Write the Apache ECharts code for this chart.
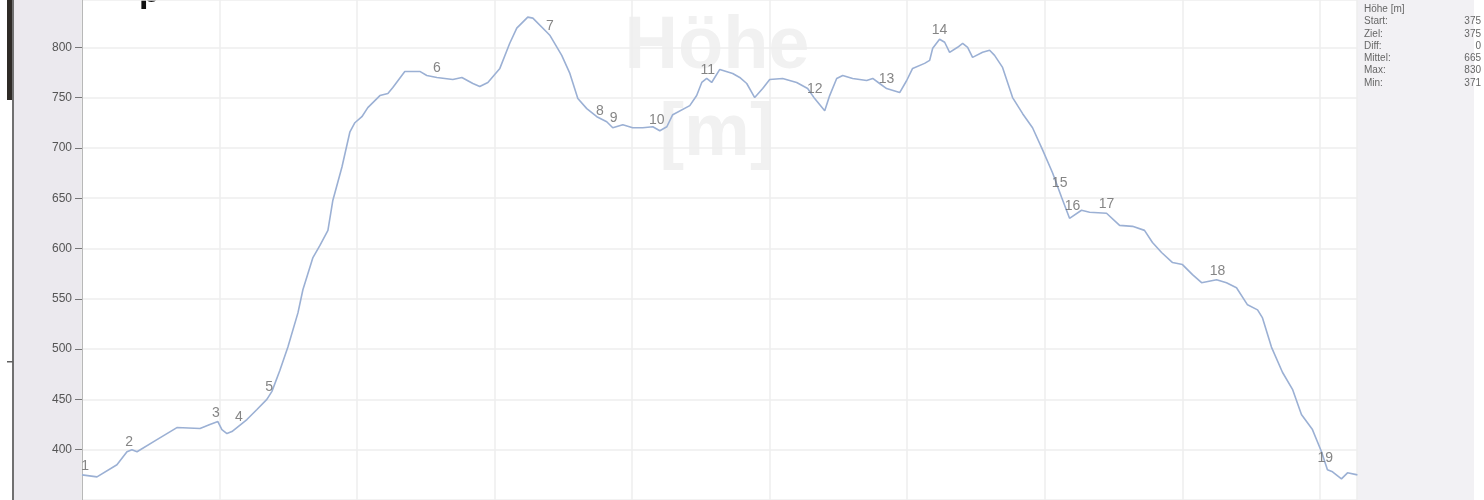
<!DOCTYPE html>
<html><head><meta charset="utf-8">
<script src="https://cdn.jsdelivr.net/npm/echarts@6/dist/echarts.min.js"></script>
<style>html,body{margin:0;padding:0;background:#fff}#c{width:1484px;height:500px}</style>
</head><body><div id="c"></div>
<script>
// distance along the route (grid units) and elevation (m)
const distKm = [0,0.109,0.254,0.327,0.363,0.400,0.545,0.690,0.858,0.930,0.988,1.017,1.054,1.090,1.199,1.272,1.344,1.381,1.439,1.497,1.570,1.606,1.679,1.730,1.788,1.824,1.890,1.948,1.984,2.035,2.078,2.166,2.224,2.260,2.347,2.456,2.507,2.580,2.696,2.762,2.842,2.892,2.951,3.038,3.110,3.161,3.241,3.278,3.380,3.401,3.488,3.547,3.605,3.670,3.743,3.815,3.859,3.932,4.004,4.077,4.150,4.201,4.252,4.295,4.419,4.469,4.506,4.542,4.578,4.637,4.731,4.782,4.833,4.891,4.949,5.000,5.094,5.196,5.276,5.327,5.400,5.436,5.487,5.531,5.603,5.705,5.749,5.799,5.850,5.945,5.996,6.039,6.126,6.163,6.185,6.235,6.272,6.308,6.366,6.403,6.439,6.475,6.548,6.599,6.635,6.693,6.766,6.839,6.911,6.984,7.057,7.122,7.180,7.267,7.326,7.449,7.544,7.638,7.725,7.783,7.849,7.929,8.001,8.074,8.140,8.249,8.321,8.394,8.474,8.547,8.583,8.648,8.728,8.801,8.866,8.946,9.012,9.055,9.092,9.157,9.201,9.273];
const elevM = [375,373,385,398,400,398,410,422,421,425,428,420,416,418,430,440,450,458,479,502,536,559,591,603,618,648,681,716,725,731,740,752,754,760,776,776,772,770,768,770,764,761,765,779,804,819,830,829,815,812,792,774,749,739,731,726,720,723,720,720,721,717,721,733,742,752,765,769,765,778,774,770,764,750,759,768,769,765,759,749,737,752,769,772,769,767,769,764,759,755,767,779,784,787,799,808,805,795,800,804,800,790,795,797,792,780,750,734,720,698,675,651,630,638,636,635,623,622,618,606,596,586,584,574,566,569,566,561,544,539,531,502,477,460,435,420,398,380,378,371,377,375];

// waypoints
const wpNames = ['1','2','3','4','5','6','7','8','9','10','11','12','13','14','15','16','17','18','19'];
const wpDist = [0.022,0.342,0.974,1.141,1.360,2.580,3.401,3.765,3.866,4.179,4.549,5.327,5.850,6.235,7.108,7.202,7.449,8.256,9.040];
const wpElev = [375,399,427,423,453,770,812,728,721,719,768,749,759,808,656,633,635,569,383];

// summary panel
const statTitle = 'Höhe [m]';
const statLabels = ['Start:','Ziel:','Diff:','Mittel:','Max:','Min:'];
const statValues = ['375','375','0','665','830','371'];

const chart = echarts.init(document.getElementById('c'));
const F = '"Liberation Sans", Arial, sans-serif';

const graphics = [
  {type:'rect', z:-10, shape:{x:14,y:0,width:68,height:500}, style:{fill:'#ebe9ee'}},
  {type:'rect', z:-10, shape:{x:1357,y:0,width:117,height:500}, style:{fill:'#f2f1f4'}},
  {type:'rect', z:-9, shape:{x:7,y:0,width:6,height:100}, style:{fill:'#2e2a26'}},
  {type:'rect', z:-9, shape:{x:12,y:0,width:2,height:500}, style:{fill:'#707070'}},
  {type:'rect', z:-9, shape:{x:7,y:361,width:6,height:1.5}, style:{fill:'#606060'}},
  {type:'text', z:-9, style:{x:139, y:10, text:'p', textVerticalAlign:'bottom', font:'bold 34px ' + F, fill:'#111'}},
  {type:'text', z:-5, style:{x:717, y:48, text:'Höhe', textAlign:'center', textVerticalAlign:'middle', font:'bold 74px ' + F, fill:'#f1f1f1'}},
  {type:'text', z:-5, style:{x:717, y:135, text:'[m]', textAlign:'center', textVerticalAlign:'middle', font:'bold 74px ' + F, fill:'#f1f1f1'}},
  {type:'text', z:5, style:{x:1364, y:9, text:statTitle, textVerticalAlign:'middle', font:'10px ' + F, fill:'#666'}}
];
statLabels.forEach((s,i)=>{
  graphics.push({type:'text', z:5, style:{x:1364, y:21.5+i*12.3, text:s, textVerticalAlign:'middle', font:'10px ' + F, fill:'#666'}});
  graphics.push({type:'text', z:5, style:{x:1481, y:21.5+i*12.3, text:statValues[i], textAlign:'right', textVerticalAlign:'middle', font:'10px ' + F, fill:'#666'}});
});

chart.setOption({
  animation:false,
  backgroundColor:'#ffffff',
  graphic: graphics,
  grid:{left:82, right:127, top:0, bottom:0, containLabel:false},
  xAxis:{type:'value', min:0, max:9.27, interval:1,
    axisLabel:{show:false}, axisTick:{show:false},
    axisLine:{show:true, lineStyle:{color:'#d8d8d8', type:'dashed', width:1}},
    splitLine:{show:true, lineStyle:{color:'#eeeeee', width:1.5}}},
  yAxis:{type:'value', min:350, max:847, interval:50,
    axisLine:{show:true, lineStyle:{color:'#b8b8b8', width:1}},
    axisTick:{show:true, length:7, lineStyle:{color:'#777'}},
    axisLabel:{show:true, margin:10, color:'#555', fontSize:12, fontFamily:F, showMinLabel:false, showMaxLabel:false},
    splitLine:{show:true, lineStyle:{color:'#eeeeee', width:1.5}}},
  series:[
    {type:'line', data: distKm.map((d,i)=>[d, elevM[i]]), symbol:'none', smooth:false,
     lineStyle:{color:'#9bb0d4', width:1.6}, z:3},
    {type:'scatter', data: wpDist.map((d,i)=>({value:[d, wpElev[i]], name:wpNames[i]})), symbolSize:0, z:4,
     label:{show:true, position:'top', distance:2, formatter:p=>p.name, color:'#666', fontSize:14, fontFamily:F}}
  ]
});
</script></body></html>
